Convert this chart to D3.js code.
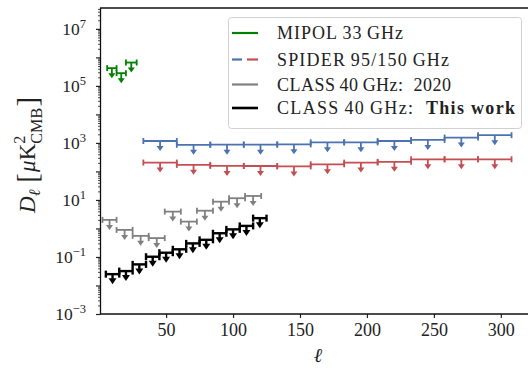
<!DOCTYPE html>
<html>
<head>
<meta charset="utf-8">
<script src="https://cdn.jsdelivr.net/npm/d3@7"></script>
<style>
  body { margin: 0; background: #fff; }
  text { font-family: "Liberation Serif", serif; fill: #222; }
</style>
</head>
<body>
<div id="chart"></div>
<script>
// bin edges (multipole ell) and upper limits (uK^2)
const mipolEdges = [6, 13, 20, 28];
const mipolVals = [4.2e5, 2.8e5, 6.6e5];

const spiderEdges = [33, 58, 83, 108, 133, 158, 183, 208, 233, 258, 283, 308];
const spider95 = [1170, 860, 870, 870, 890, 1050, 1050, 1170, 1270, 1540, 1870];
const spider150 = [205, 170, 156, 155, 150, 178, 204, 218, 267, 267, 267];

const class2020Edges = [2.5, 13, 25, 37, 49, 61, 73, 85, 97, 109, 121];
const class2020Vals = [2.0, 0.89, 0.55, 0.46, 3.9, 1.74, 4.2, 8.7, 11.5, 13.8];

const classEdges = [5, 15, 25, 35, 45, 55, 65, 75, 85, 95, 105, 115, 125];
const classVals = [0.025, 0.032, 0.055, 0.102, 0.141, 0.186, 0.30, 0.40, 0.68, 0.93, 1.23, 2.3];

const xTicks = [50, 100, 150, 200, 250, 300];
const yExps = [-3, -2, -1, 0, 1, 2, 3, 4, 5, 6, 7];
const yLabelExps = [-3, -1, 1, 3, 5, 7];

const legendNames = ["MIPOL\u200933\u2009GHz", "SPIDER\u200995/150\u2009GHz", "CLASS\u200940\u2009GHz:  2020", "CLASS\u200940\u2009GHz:  "];
const legendWidths = [126, 172, 174, 238];

const width = 528, height = 371;
const svg = d3.select("#chart").append("svg")
  .attr("width", width).attr("height", height);

const x = d3.scaleLinear().domain([1, 320]).range([100.5, 527.6]);
const y = d3.scaleLog().domain([1e-3, 5.4e7]).range([314, 8]);

// data
function drawBins(edges, vals, color, lw, capH, headW, headH) {
  const g = svg.append("g").attr("stroke", color).attr("fill", color);
  vals.forEach((v, i) => {
    const x0 = x(edges[i]), x1 = x(edges[i + 1]), xc = (x0 + x1) / 2, yv = y(v);
    g.append("line").attr("x1", x0).attr("x2", x1).attr("y1", yv).attr("y2", yv).attr("stroke-width", lw);
    [x0, x1].forEach(xe => g.append("line").attr("x1", xe).attr("x2", xe)
      .attr("y1", yv - capH).attr("y2", yv + capH).attr("stroke-width", lw));
    const tip = yv + 10;
    g.append("line").attr("x1", xc).attr("x2", xc).attr("y1", yv).attr("y2", tip - 2).attr("stroke-width", lw);
    g.append("path").attr("stroke", "none")
      .attr("d", `M${xc - headW / 2},${tip - headH}L${xc + headW / 2},${tip - headH}L${xc},${tip}Z`);
  });
}

drawBins(spiderEdges, spider150, "#c44e52", 1.8, 3, 7, 5);
drawBins(spiderEdges, spider95, "#4c72b0", 1.8, 3, 7, 5);
drawBins(mipolEdges, mipolVals, "green", 1.8, 3, 7, 5);
drawBins(class2020Edges, class2020Vals, "gray", 1.8, 3, 7, 5);
drawBins(classEdges, classVals, "black", 2.4, 3.5, 8, 6);

// axes
const xAxis = svg.append("g").attr("transform", "translate(0,314)")
  .call(d3.axisBottom(x).tickValues(xTicks).tickSize(4).tickPadding(5));
xAxis.select(".domain").remove();
xAxis.selectAll("line").attr("stroke", "#222").attr("stroke-width", 1.2);
xAxis.selectAll("text").attr("font-size", 18).attr("font-family", "Liberation Serif").attr("fill", "#222");

const minors = [];
yExps.slice(0, -1).forEach(e => { for (let k = 2; k <= 9; k++) minors.push(k * Math.pow(10, e)); });
[2, 3, 4, 5].forEach(k => minors.push(k * 1e7));

const yMinor = svg.append("g").attr("transform", "translate(100.5,0)")
  .call(d3.axisLeft(y).tickValues(minors).tickSize(2.5).tickFormat(""));
yMinor.select(".domain").remove();
yMinor.selectAll("line").attr("stroke", "#222").attr("stroke-width", 0.8);

const yMajor = svg.append("g").attr("transform", "translate(100.5,0)")
  .call(d3.axisLeft(y).tickValues(yExps.map(e => Math.pow(10, e))).tickSize(4.5).tickFormat(""));
yMajor.select(".domain").remove();
yMajor.selectAll("line").attr("stroke", "#222").attr("stroke-width", 1.2);

yLabelExps.forEach(e => {
  const t = svg.append("text").attr("x", 86).attr("y", y(Math.pow(10, e)) + 6)
    .attr("text-anchor", "end").attr("font-size", 17.5).text("10");
  t.append("tspan").attr("dy", -7).attr("font-size", 12.5).text(String(e).replace("-", "\u2212"));
});

// spines
const spine = svg.append("g").attr("stroke", "#111").attr("stroke-width", 1.3);
spine.append("line").attr("x1", 100.5).attr("x2", 100.5).attr("y1", 8).attr("y2", 314);
spine.append("line").attr("x1", 100).attr("x2", width).attr("y1", 314).attr("y2", 314);
spine.append("line").attr("x1", 100).attr("x2", width).attr("y1", 8).attr("y2", 8);

// axis labels
svg.append("text").attr("x", 318).attr("y", 362).attr("text-anchor", "middle")
  .attr("font-size", 20).attr("font-style", "italic").text("\u2113");

const yl = svg.append("g").attr("transform", "translate(35,155) rotate(-90)");
const ylInner = yl.append("g");
let cx = 0;
function piece(txt, size, dy, italic) {
  const t = ylInner.append("text").attr("x", cx).attr("y", dy).attr("font-size", size)
    .attr("font-style", italic ? "italic" : "normal").text(txt);
  const w = t.node().getComputedTextLength();
  cx += w;
  return w;
}
piece("D", 20, 0, true);
piece("\u2113", 14, 4, true);
cx += 6;
piece("[", 25, 2, false);
cx += 1;
piece("\u03bc", 20, 0, true);
piece("K", 20, 0, false);
const sx = cx;
const w2 = piece("2", 14, -9, false);
cx = sx;
const w3 = piece("CMB", 14, 6, false);
cx = sx + Math.max(w2, w3) + 1;
piece("]", 25, 2, false);
const sc = 116 / cx;
ylInner.attr("transform", `scale(${sc}) translate(${-cx / 2},0)`);

// legend
const lg = svg.append("g");
lg.append("rect").attr("x", 228.5).attr("y", 17.5).attr("width", 293).attr("height", 111)
  .attr("rx", 3).attr("fill", "white").attr("fill-opacity", 0.85)
  .attr("stroke", "#d0d0d0").attr("stroke-width", 1);
const rowY = [33, 59.5, 84.5, 108];
const rowColor = ["green", null, "gray", "black"];
rowY.forEach((ry, i) => {
  if (rowColor[i]) {
    lg.append("line").attr("x1", 232).attr("x2", 258).attr("y1", ry).attr("y2", ry)
      .attr("stroke", rowColor[i]).attr("stroke-width", i === 3 ? 2.6 : 2.2);
  } else {
    lg.append("line").attr("x1", 232).attr("x2", 242).attr("y1", ry).attr("y2", ry)
      .attr("stroke", "#4c72b0").attr("stroke-width", 2.2);
    lg.append("line").attr("x1", 247).attr("x2", 258).attr("y1", ry).attr("y2", ry)
      .attr("stroke", "#c44e52").attr("stroke-width", 2.2);
  }
  const t = lg.append("text").attr("x", 277).attr("y", ry + 6).attr("font-size", 18)
    .attr("xml:space", "preserve").style("white-space", "pre")
    .attr("textLength", legendWidths[i]).attr("lengthAdjust", "spacing")
    .text(legendNames[i]);
  if (i === 3) t.append("tspan").attr("font-weight", "bold").text("This work");
});
</script>
</body>
</html>
